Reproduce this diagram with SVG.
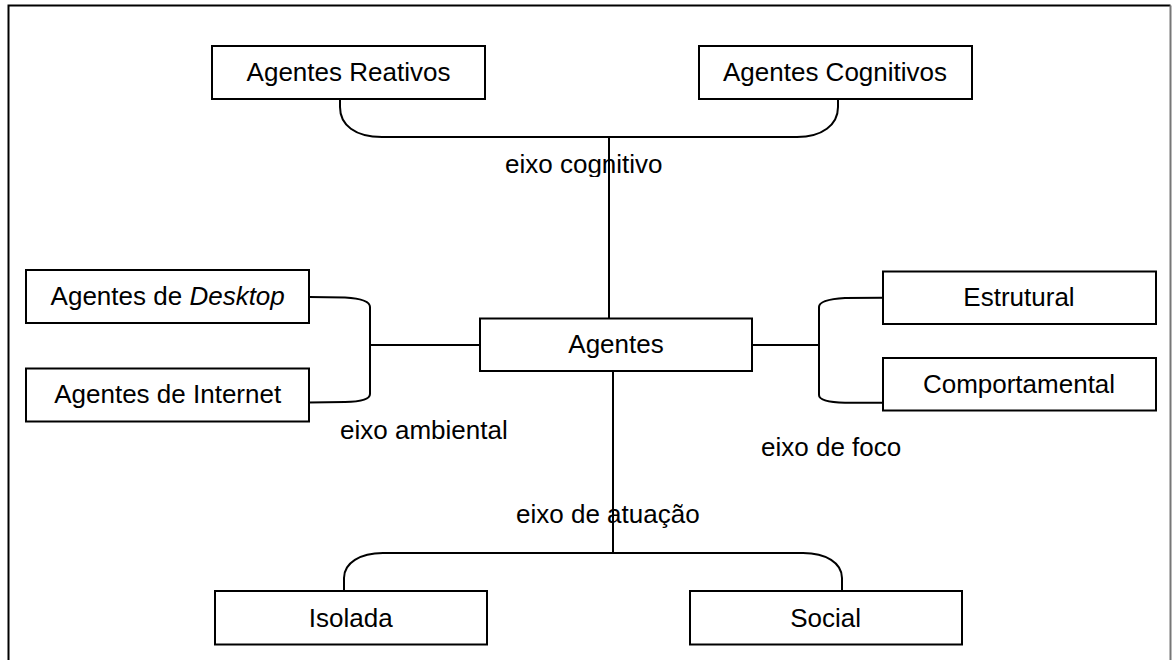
<svg xmlns="http://www.w3.org/2000/svg" width="1173" height="660" viewBox="0 0 1173 660">
<style>
.box{fill:#fff;stroke:#000;stroke-width:2}
.ln{fill:none;stroke:#000;stroke-width:2}
.t{font-family:"Liberation Sans",Arial,sans-serif;font-size:26px;fill:#000}
.c{text-anchor:middle}
</style>
<defs>
<clipPath id="clipCog"><rect x="490" y="140" width="200" height="37"/></clipPath>
</defs>
<rect width="1173" height="660" fill="#fff"/>
<g id="frame">
<path d="M8.5,670 L8.5,5.5 L1170.5,5.5" fill="none" stroke="#000" stroke-width="2"/>
<path d="M1170.5,5.5 L1170.5,670" fill="none" stroke="#777" stroke-width="2"/>
</g>
<g id="labels">
<text class="t" x="505" y="173" clip-path="url(#clipCog)">eixo cognitivo</text>
<text class="t" x="340" y="439">eixo ambiental</text>
<text class="t" x="761" y="456">eixo de foco</text>
<text class="t" x="516" y="523">eixo de atuação</text>
</g>
<g id="connectors">
<path class="ln" d="M340,99 L340,107 C340,125 355,137 382,137 L797,137 C822,137 838,125 838,107 L838,99"/>
<path class="ln" d="M609,137 L609,318.5"/>
<path class="ln" d="M309,297 L345,297.5 Q370,299 370,307 L370,394 Q370,401.5 345,402 L309,402.5"/>
<path class="ln" d="M370,345 L480,345"/>
<path class="ln" d="M883,297.7 L845,298 Q819,299.5 819,307 L819,395 Q819,402 845,402.7 L883,402.7"/>
<path class="ln" d="M752,345 L819,345"/>
<path class="ln" d="M613,371 L613,553"/>
<path class="ln" d="M344,591 L344,578 C344,563 360,553 383,553 L803,553 C826,553 842,563 842,578 L842,591"/>
</g>
<g id="reativos"><rect class="box" x="212" y="46" width="273" height="53"/><text class="t c" x="348.5" y="81">Agentes Reativos</text></g>
<g id="cognitivos"><rect class="box" x="699" y="46" width="273" height="53"/><text class="t c" x="835" y="81">Agentes Cognitivos</text></g>
<g id="desktop"><rect class="box" x="26" y="270" width="283" height="53"/><text class="t c" x="167.7" y="305">Agentes de <tspan font-style="italic">Desktop</tspan></text></g>
<g id="internet"><rect class="box" x="26" y="368.5" width="283" height="53"/><text class="t c" x="167.7" y="403">Agentes de Internet</text></g>
<g id="agentes"><rect class="box" x="480" y="318.5" width="272" height="52.5"/><text class="t c" x="616" y="353">Agentes</text></g>
<g id="estrutural"><rect class="box" x="883" y="271.5" width="273" height="52.5"/><text class="t c" x="1019" y="306">Estrutural</text></g>
<g id="comportamental"><rect class="box" x="883" y="358" width="273" height="52.5"/><text class="t c" x="1019" y="393">Comportamental</text></g>
<g id="isolada"><rect class="box" x="215" y="591" width="272" height="53.5"/><text class="t c" x="350.7" y="627">Isolada</text></g>
<g id="social"><rect class="box" x="690" y="591" width="272" height="53.5"/><text class="t c" x="825.7" y="627">Social</text></g>
</svg>
